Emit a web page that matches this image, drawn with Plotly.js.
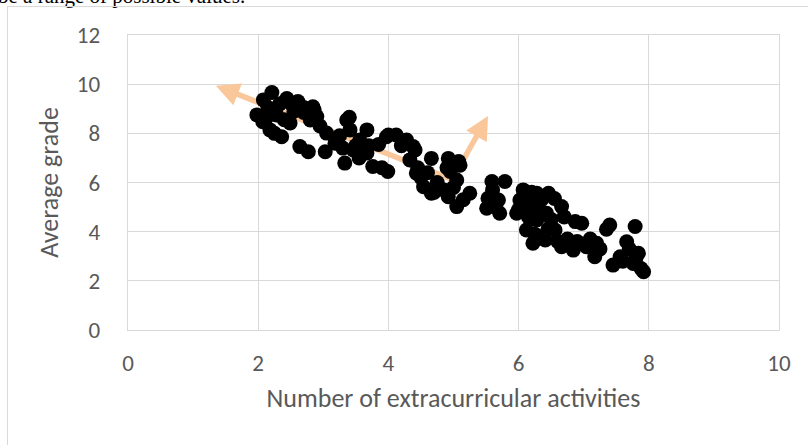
<!DOCTYPE html>
<html>
<head>
<meta charset="utf-8">
<script src="https://cdn.plot.ly/plotly-3.0.1.min.js"></script>
<style>
  html, body { margin:0; padding:0; background:#fff; width:808px; height:445px; overflow:hidden; }
  #frame { position:absolute; left:7px; top:6px; width:900px; height:600px; border-left:1px solid #D9D9D9; border-top:1px solid #D9D9D9; }
  #cut { position:absolute; left:-2px; top:-16px; font-family:"Liberation Serif", serif; font-size:21px; color:#000; white-space:nowrap; }
  #chart { position:absolute; left:0; top:0; width:808px; height:445px; }
</style>
</head>
<body>
<div id="cut">be a range of possible values.</div>
<div id="frame"></div>
<div id="chart"></div>
<script>
// Number of extracurricular activities (x) and average grade (y)
const activities = [
  1.98,2.08,2.21,2.07,2.18,2.36,2.44,2.61,2.49,2.28,2.84,2.90,2.80,3.05,2.64,2.77,3.03,2.15,2.33,2.55,2.70,2.40,2.12,2.95,2.25,2.70,2.52,2.86,
  3.36,3.41,3.67,3.33,3.56,3.67,3.76,3.99,3.97,4.12,4.28,4.38,4.33,4.43,3.46,3.18,3.40,3.30,3.55,3.85,4.00,4.41,3.70,3.25,3.50,3.90,4.20,
  4.54,4.66,4.66,4.92,5.08,5.05,4.92,5.05,5.25,5.59,5.79,5.53,5.69,5.51,5.71,4.50,4.60,4.75,4.85,4.95,5.00,5.15,4.45,4.70,5.60,5.65,4.90,5.10,
  6.07,6.28,6.46,6.02,5.97,6.18,6.66,6.12,6.41,6.66,6.87,6.97,6.84,6.43,6.28,6.22,6.56,6.00,6.15,6.35,6.55,6.30,6.50,6.70,6.10,6.25,6.45,6.60,6.75,6.90,6.20,6.05,
  7.20,7.17,7.40,7.45,7.66,7.79,7.84,7.92,7.76,7.04,7.56,7.25,7.70,7.88,7.10,7.60,7.35,7.80
];
const grades = [
  8.75,9.36,9.66,8.47,8.14,7.86,9.42,9.29,8.42,8.75,9.08,8.68,8.54,8.01,7.46,7.25,7.25,9.05,9.20,8.90,8.85,8.55,8.60,8.30,8.00,9.05,9.15,8.95,
  8.54,8.14,8.14,6.79,7.73,7.20,6.65,6.45,7.86,7.93,7.73,7.46,6.92,6.38,7.32,7.60,8.65,7.40,7.00,7.55,7.93,7.32,7.50,7.90,7.50,6.60,7.50,
  5.83,5.56,6.98,6.98,6.85,6.10,5.42,5.02,5.56,6.04,6.04,5.36,5.29,4.95,4.75,6.20,6.40,6.00,5.70,6.45,5.80,5.30,6.60,5.60,5.70,5.00,6.60,6.70,
  5.70,5.56,5.56,5.29,4.75,5.15,5.02,4.07,3.66,3.39,4.41,4.34,3.25,4.75,4.48,3.53,4.07,4.90,4.60,5.30,5.35,5.00,4.50,4.60,5.45,3.90,4.10,3.60,3.70,3.60,5.60,5.05,
  3.53,2.98,4.27,2.64,3.59,4.21,3.12,2.37,2.71,3.39,2.98,3.30,3.30,2.50,3.70,2.80,4.10,2.90
];
// Principal-direction arrows: tail (centre) and tips
const arrowTail = [4.98, 6.12];
const arrow1Tip = [1.35, 9.94];
const arrow2Tip = [5.53, 8.71];

const xTicks = [0, 2, 4, 6, 8, 10];
const yTicks = [0, 2, 4, 6, 8, 10, 12];

const arrowColor = '#F9C79A';
function along(tip, f) {
  return [arrowTail[0] + f * (tip[0] - arrowTail[0]), arrowTail[1] + f * (tip[1] - arrowTail[1])];
}
function shaftTrace(tip, f) {
  const end = along(tip, f);
  return {
    type: 'scatter', mode: 'lines',
    x: [arrowTail[0], end[0]], y: [arrowTail[1], end[1]],
    line: { color: arrowColor, width: 5.5 },
    hoverinfo: 'skip', showlegend: false
  };
}
function headAnn(tip, f) {
  const start = along(tip, f);
  return {
    x: tip[0], y: tip[1], xref: 'x', yref: 'y',
    ax: start[0], ay: start[1], axref: 'x', ayref: 'y',
    text: '', showarrow: true, arrowhead: 2, arrowsize: 0.85,
    arrowwidth: 5.5, arrowcolor: arrowColor, standoff: 0, startstandoff: 0
  };
}

const traces = [
  shaftTrace(arrow1Tip, 0.96),
  shaftTrace(arrow2Tip, 0.9),
  {
    type: 'scatter', mode: 'markers',
    x: activities, y: grades,
    marker: { color: '#000000', size: 15, line: { width: 0 } },
    showlegend: false, cliponaxis: false
  }
];

const fontFam = 'Carlito, Lato, sans-serif';
const layout = {
  width: 808, height: 445,
  margin: { l: 128, r: 29, t: 35, b: 115, pad: 0 },
  paper_bgcolor: 'rgba(0,0,0,0)', plot_bgcolor: 'rgba(0,0,0,0)',
  font: { family: fontFam, color: '#595959', size: 23 },
  annotations: [headAnn(arrow1Tip, 0.9), headAnn(arrow2Tip, 0.72)],
  xaxis: {
    range: [0, 10], tickvals: xTicks, ticktext: xTicks.map(String),
    showgrid: true, gridcolor: '#D9D9D9', gridwidth: 1.3,
    showline: true, mirror: true, linecolor: '#D9D9D9', linewidth: 1.3,
    zeroline: false, ticks: '', ticklabelstandoff: 12,
    tickfont: { family: fontFam, size: 23, color: '#595959' },
    title: { text: 'Number of extracurricular activities', font: { family: fontFam, size: 26, color: '#595959' }, standoff: 13 }
  },
  yaxis: {
    range: [0, 12], tickvals: yTicks, ticktext: yTicks.map(String),
    showgrid: true, gridcolor: '#D9D9D9', gridwidth: 1.3,
    showline: true, mirror: true, linecolor: '#D9D9D9', linewidth: 1.3,
    zeroline: false, ticks: '', ticklabelstandoff: 22,
    tickfont: { family: fontFam, size: 23, color: '#595959' },
    title: { text: 'Average grade', font: { family: fontFam, size: 26, color: '#595959' }, standoff: 10 }
  }
};

Plotly.newPlot('chart', traces, layout, { displayModeBar: false, staticPlot: true });
</script>
</body>
</html>
